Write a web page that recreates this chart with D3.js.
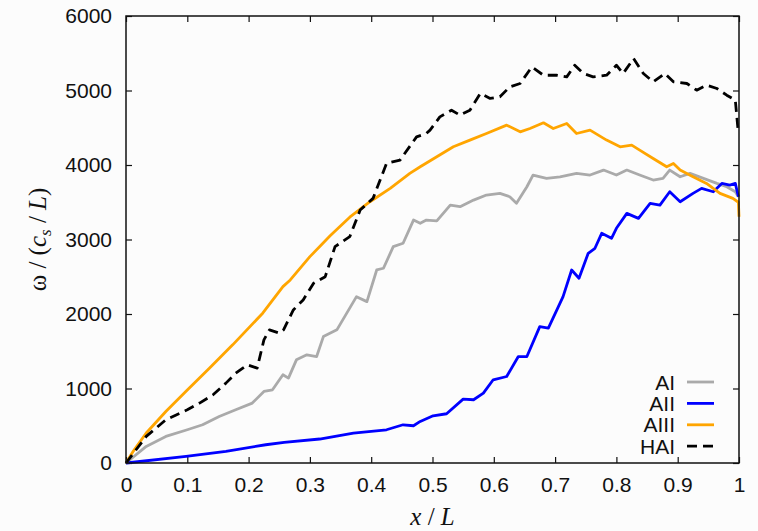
<!DOCTYPE html>
<html>
<head>
<meta charset="utf-8">
<script src="https://cdn.jsdelivr.net/npm/d3@7"></script>
<style>
  body { margin: 0; background: #fcfcfc; }
  svg { display: block; }
  .tick text { font-family: "Liberation Sans", Arial, sans-serif; font-size: 21px; fill: #111; }
  .legend text { font-family: "Liberation Sans", Arial, sans-serif; font-size: 21px; fill: #111; }
  .axis-label { font-family: "Liberation Serif", "Times New Roman", serif; font-size: 25px; fill: #111; }
</style>
</head>
<body>
<svg id="chart" width="758" height="531"></svg>
<script>
// ---------- data ----------
const xTicks = [0, 0.1, 0.2, 0.3, 0.4, 0.5, 0.6, 0.7, 0.8, 0.9, 1];
const yTicks = [0, 1000, 2000, 3000, 4000, 5000, 6000];

const seriesNames = ["AI", "AII", "AIII", "HAI"];

const AI = [
  [0, 0], [0.033, 223], [0.065, 357], [0.100, 446], [0.125, 513], [0.152, 625],
  [0.179, 714], [0.206, 804], [0.225, 960], [0.239, 983], [0.256, 1184], [0.265, 1139],
  [0.278, 1385], [0.295, 1452], [0.311, 1429], [0.322, 1697], [0.344, 1787], [0.376, 2233],
  [0.393, 2166], [0.409, 2591], [0.420, 2614], [0.436, 2904], [0.452, 2949], [0.469, 3261],
  [0.480, 3217], [0.490, 3261], [0.507, 3250], [0.529, 3462], [0.545, 3440], [0.567, 3529],
  [0.588, 3597], [0.610, 3619], [0.626, 3574], [0.637, 3485], [0.654, 3708], [0.664, 3865],
  [0.686, 3820], [0.708, 3842], [0.735, 3887], [0.757, 3865], [0.779, 3932], [0.800, 3865],
  [0.817, 3932], [0.838, 3865], [0.860, 3798], [0.876, 3820], [0.887, 3932], [0.904, 3842],
  [0.920, 3887], [0.942, 3820], [0.964, 3753], [0.980, 3708], [0.994, 3641], [0.999, 3574]
];

const AII = [
  [0, 0], [0.098, 89], [0.163, 156], [0.228, 245], [0.258, 276], [0.316, 322],
  [0.371, 402], [0.425, 446], [0.452, 513], [0.469, 500], [0.480, 558], [0.501, 634],
  [0.523, 661], [0.550, 858], [0.567, 849], [0.583, 938], [0.599, 1117], [0.621, 1161],
  [0.640, 1429], [0.654, 1429], [0.675, 1831], [0.689, 1810], [0.713, 2233], [0.727, 2591],
  [0.739, 2480], [0.754, 2815], [0.765, 2882], [0.776, 3083], [0.792, 3016], [0.800, 3150],
  [0.817, 3351], [0.836, 3284], [0.855, 3485], [0.871, 3462], [0.887, 3641], [0.904, 3507],
  [0.925, 3619], [0.939, 3686], [0.958, 3641], [0.972, 3753], [0.985, 3731], [0.994, 3753],
  [0.999, 3574]
];

const AIII = [
  [0, 0], [0.012, 160], [0.033, 402], [0.065, 692], [0.100, 980], [0.136, 1273],
  [0.174, 1586], [0.223, 2011], [0.256, 2367], [0.268, 2457], [0.300, 2770], [0.333, 3050],
  [0.365, 3300], [0.398, 3507], [0.431, 3686], [0.463, 3887], [0.480, 3976], [0.507, 4110],
  [0.534, 4244], [0.561, 4334], [0.588, 4423], [0.621, 4535], [0.643, 4445], [0.659, 4490],
  [0.681, 4566], [0.697, 4490], [0.719, 4557], [0.735, 4423], [0.757, 4468], [0.784, 4334],
  [0.806, 4244], [0.825, 4267], [0.838, 4200], [0.860, 4088], [0.882, 3976], [0.893, 4021],
  [0.904, 3932], [0.925, 3842], [0.947, 3753], [0.969, 3619], [0.990, 3552], [0.999, 3500],
  [1.0, 3306]
];

const HAI = [
  [0, 0], [0.033, 357], [0.065, 580], [0.100, 714], [0.120, 804], [0.142, 915],
  [0.163, 1072], [0.179, 1206], [0.198, 1318], [0.214, 1273], [0.225, 1653], [0.234, 1787],
  [0.250, 1743], [0.257, 1787], [0.273, 2055], [0.289, 2189], [0.306, 2413], [0.325, 2501],
  [0.341, 2904], [0.365, 3038], [0.382, 3395], [0.403, 3552], [0.425, 4021], [0.447, 4066],
  [0.474, 4378], [0.490, 4423], [0.496, 4468], [0.512, 4646], [0.531, 4736], [0.545, 4669],
  [0.561, 4736], [0.578, 4960], [0.594, 4893], [0.610, 4915], [0.626, 5049], [0.643, 5094],
  [0.662, 5316], [0.681, 5205], [0.702, 5205], [0.719, 5183], [0.732, 5339], [0.746, 5228],
  [0.762, 5183], [0.784, 5205], [0.800, 5339], [0.811, 5228], [0.828, 5429], [0.844, 5228],
  [0.860, 5116], [0.879, 5228], [0.893, 5116], [0.915, 5094], [0.931, 5004], [0.947, 5071],
  [0.964, 5027], [0.980, 4937], [0.994, 4870], [0.999, 4423]
];

// ---------- layout ----------
const svg = d3.select("#chart");
const margin = { left: 126, right: 19, top: 16, bottom: 68 };
const W = 758, H = 531;

const x = d3.scaleLinear().domain([0, 1]).range([margin.left, W - margin.right]);
const y = d3.scaleLinear().domain([0, 6000]).range([H - margin.bottom, margin.top]);

const series = [
  { name: seriesNames[0], data: AI, color: "#aaaaaa", dash: null },
  { name: seriesNames[1], data: AII, color: "#0000ff", dash: null },
  { name: seriesNames[2], data: AIII, color: "#ffa500", dash: null },
  { name: seriesNames[3], data: HAI, color: "#000000", dash: "10,6" }
];

// axes (ticks inward, mirrored on top/right)
const tickLen = 6;
svg.append("g").attr("transform", `translate(0,${y(0)})`)
  .call(d3.axisBottom(x).tickValues(xTicks).tickSizeInner(-tickLen).tickSizeOuter(0).tickPadding(14)
    .tickFormat(d3.format("")))
  .call(g => g.select(".domain").remove());
svg.append("g").attr("transform", `translate(0,${y(6000)})`)
  .call(d3.axisTop(x).tickValues(xTicks).tickSizeInner(-tickLen).tickSizeOuter(0).tickFormat(""))
  .call(g => g.select(".domain").remove());
svg.append("g").attr("transform", `translate(${x(0)},0)`)
  .call(d3.axisLeft(y).tickValues(yTicks).tickSizeInner(-tickLen).tickSizeOuter(0).tickPadding(14)
    .tickFormat(d3.format("d")))
  .call(g => g.select(".domain").remove());
svg.append("g").attr("transform", `translate(${x(1)},0)`)
  .call(d3.axisRight(y).tickValues(yTicks).tickSizeInner(-tickLen).tickSizeOuter(0).tickFormat(""))
  .call(g => g.select(".domain").remove());
svg.selectAll(".tick line").attr("stroke", "#111").attr("stroke-width", 1.2);

// lines
const line = d3.line().x(d => x(d[0])).y(d => y(d[1]));
series.forEach(s => {
  svg.append("path")
    .datum(s.data)
    .attr("fill", "none")
    .attr("stroke", s.color)
    .attr("stroke-width", 2.8)
    .attr("stroke-linejoin", "round")
    .attr("stroke-dasharray", s.dash)
    .attr("d", line);
});

// frame
svg.append("rect")
  .attr("x", x(0)).attr("y", y(6000))
  .attr("width", x(1) - x(0)).attr("height", y(0) - y(6000))
  .attr("fill", "none").attr("stroke", "#111").attr("stroke-width", 1.5);

// legend
const legend = svg.append("g").attr("class", "legend");
series.forEach((s, i) => {
  const ly = 382 + i * 21.4;
  legend.append("text")
    .attr("x", 675).attr("y", ly).attr("dy", "0.36em")
    .attr("text-anchor", "end").text(s.name);
  legend.append("line")
    .attr("x1", 687).attr("x2", 714).attr("y1", ly).attr("y2", ly)
    .attr("stroke", s.color).attr("stroke-width", 2.8)
    .attr("stroke-dasharray", s.dash);
});

// axis labels
const xl = svg.append("text").attr("class", "axis-label")
  .attr("x", (x(0) + x(1)) / 2).attr("y", 525).attr("text-anchor", "middle");
xl.append("tspan").attr("font-style", "italic").text("x");
xl.append("tspan").text(" / ");
xl.append("tspan").attr("font-style", "italic").text("L");

const yl = svg.append("text").attr("class", "axis-label")
  .attr("transform", `translate(46,${(y(0) + y(6000)) / 2}) rotate(-90)`)
  .attr("text-anchor", "middle");
yl.append("tspan").text("ω / (");
yl.append("tspan").attr("font-style", "italic").text("c");
yl.append("tspan").attr("font-style", "italic").attr("font-size", "17px").attr("dy", 5).text("s");
yl.append("tspan").attr("dy", -5).text(" / ");
yl.append("tspan").attr("font-style", "italic").text("L");
yl.append("tspan").text(")");
</script>
</body>
</html>
